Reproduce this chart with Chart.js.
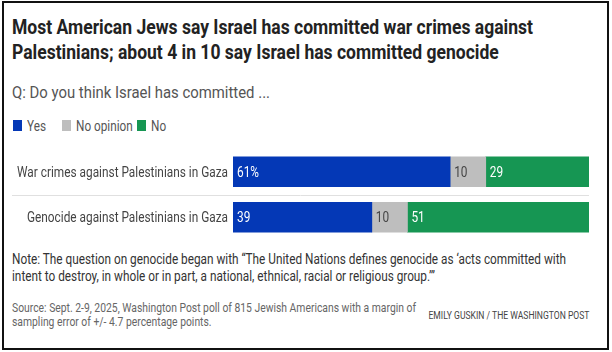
<!DOCTYPE html>
<html>
<head>
<meta charset="utf-8">
<script src="https://cdn.jsdelivr.net/npm/chart.js@4/dist/chart.umd.min.js"></script>
<style>
  body { margin: 0; width: 612px; height: 352px; overflow: hidden; background: #fff;
         font-family: Roboto, "Liberation Sans", sans-serif; }
  #frame { position: absolute; left: 2px; top: 1px; width: 603px; height: 345px; border: 2px solid #111; }
  .abs { position: absolute; left: 12px; white-space: nowrap; transform-origin: left top; }
  #title { top: 15px; font-size: 20px; line-height: 25px; font-weight: bold; color: #222; }
  #subtitle { top: 82px; font-size: 17px; line-height: 20px; color: #555; }
  .lg { position: absolute; top: 118px; font-size: 14px; line-height: 16px; color: #555; white-space: nowrap; }
  .sw { position: absolute; top: 120px; width: 9px; height: 11px; }
  #chart { position: absolute; left: 0; top: 145px; }
  #note { top: 251px; font-size: 14.5px; line-height: 17px; color: #333; }
  #source { top: 301px; font-size: 13px; line-height: 14px; color: #666; }
  #credit { position: absolute; right: 23px; top: 309px; font-size: 11px; line-height: 14px; color: #444;
            white-space: nowrap; transform-origin: right top; }
</style>
</head>
<body>
<div id="frame"></div>
<div id="title" class="abs">Most American Jews say Israel has committed war crimes against<br>Palestinians; about 4 in 10 say Israel has committed genocide</div>
<div id="subtitle" class="abs">Q: Do you think Israel has committed ...</div>
<div id="legend"></div>
<canvas id="chart" width="612" height="100"></canvas>
<div id="note" class="abs">Note: The question on genocide began with “The United Nations defines genocide as ‘acts committed with<br>intent to destroy, in whole or in part, a national, ethnical, racial or religious group.’”</div>
<div id="source" class="abs">Source: Sept. 2-9, 2025, Washington Post poll of 815 Jewish Americans with a margin of<br>sampling error of +/- 4.7 percentage points.</div>
<div id="credit">EMILY GUSKIN / THE WASHINGTON POST</div>
<script>
var categories = ['War crimes against Palestinians in Gaza', 'Genocide against Palestinians in Gaza'];
var yesValues = [61, 39];
var noOpinionValues = [10, 10];
var noValues = [29, 51];
var seriesNames = ['Yes', 'No opinion', 'No'];
var seriesColors = ['#0438b6', '#bebebe', '#169653'];
var labelColors = ['#fff', '#444', '#fff'];

// squeeze a text block to the width it has in the source (condensed face is not installed)
function fitWidth(id, target) {
    var el = document.getElementById(id);
    var w = el.getBoundingClientRect().width;
    el.style.transform = 'scaleX(' + (target / w) + ')';
}

// legend as html
var legendX = [13, 62, 137];
var legend = document.getElementById('legend');
seriesNames.forEach(function (name, i) {
    legend.innerHTML += '<div class="sw" style="left:' + legendX[i] + 'px;background:' + seriesColors[i] + '"></div>' +
        '<div class="lg" style="left:' + (legendX[i] + 14) + 'px;transform:scaleX(0.84);transform-origin:left top">' + name + '</div>';
});

fitWidth('title', 521);
fitWidth('subtitle', 258);
fitWidth('note', 554);
fitWidth('source', 404);
fitWidth('credit', 161);

var labelFont = 'Roboto, "Liberation Sans", sans-serif';
var squeeze = 1;

// separator line between the two rows
var separator = {
    id: 'separator',
    beforeDatasetsDraw: function (chart) {
        var y = chart.scales.y;
        var mid = (y.getPixelForValue(0) + y.getPixelForValue(1)) / 2;
        var ctx = chart.ctx;
        ctx.save();
        ctx.strokeStyle = '#e0e0e0';
        ctx.lineWidth = 1;
        ctx.beginPath();
        ctx.moveTo(12, Math.round(mid) + 0.5);
        ctx.lineTo(chart.chartArea.right, Math.round(mid) + 0.5);
        ctx.stroke();
        ctx.restore();
    }
};

// row labels, drawn narrow like the source
var rowLabels = {
    id: 'rowLabels',
    afterDraw: function (chart) {
        var ctx = chart.ctx, y = chart.scales.y;
        ctx.save();
        ctx.font = '15px ' + labelFont;
        squeeze = 211 / ctx.measureText(categories[0]).width;
        ctx.fillStyle = '#444';
        ctx.textBaseline = 'middle';
        ctx.textAlign = 'right';
        categories.forEach(function (c, i) {
            ctx.save();
            ctx.translate(y.right - 5, y.getPixelForValue(i) + 1);
            ctx.scale(squeeze, 1);
            ctx.fillText(c, 0, 0);
            ctx.restore();
        });
        ctx.restore();
    }
};

// value labels inside the bars
var valueLabels = {
    id: 'valueLabels',
    afterDatasetsDraw: function (chart) {
        var ctx = chart.ctx;
        ctx.save();
        ctx.font = '15px ' + labelFont;
        var k = 211 / ctx.measureText(categories[0]).width;
        ctx.textBaseline = 'middle';
        ctx.textAlign = 'left';
        chart.data.datasets.forEach(function (ds, di) {
            chart.getDatasetMeta(di).data.forEach(function (bar, i) {
                var txt = ds.data[i] + (di === 0 && i === 0 ? '%' : '');
                ctx.save();
                ctx.translate(bar.base + 4, bar.y + 1);
                ctx.scale(k, 1);
                ctx.fillStyle = labelColors[di];
                ctx.fillText(txt, 0, 0);
                ctx.restore();
            });
        });
        ctx.restore();
    }
};

var values = [yesValues, noOpinionValues, noValues];

new Chart(document.getElementById('chart'), {
    type: 'bar',
    data: {
        labels: categories,
        datasets: seriesNames.map(function (name, i) {
            return {
                label: name,
                data: values[i],
                backgroundColor: seriesColors[i],
                borderWidth: 0,
                barThickness: 30
            };
        })
    },
    options: {
        indexAxis: 'y',
        responsive: false,
        animation: false,
        devicePixelRatio: 1,
        layout: { padding: { top: 4, bottom: 5, left: 0, right: 23 } },
        plugins: {
            legend: { display: false },
            tooltip: { enabled: false }
        },
        scales: {
            x: { stacked: true, min: 0, max: 100, display: false },
            y: {
                stacked: true,
                grid: { display: false },
                border: { display: false },
                ticks: { display: false },
                afterFit: function (scale) {
                    scale.width = 233;
                    scale.paddingTop = 0;
                    scale.paddingBottom = 0;
                }
            }
        }
    },
    plugins: [separator, valueLabels, rowLabels]
});
</script>
</body>
</html>
